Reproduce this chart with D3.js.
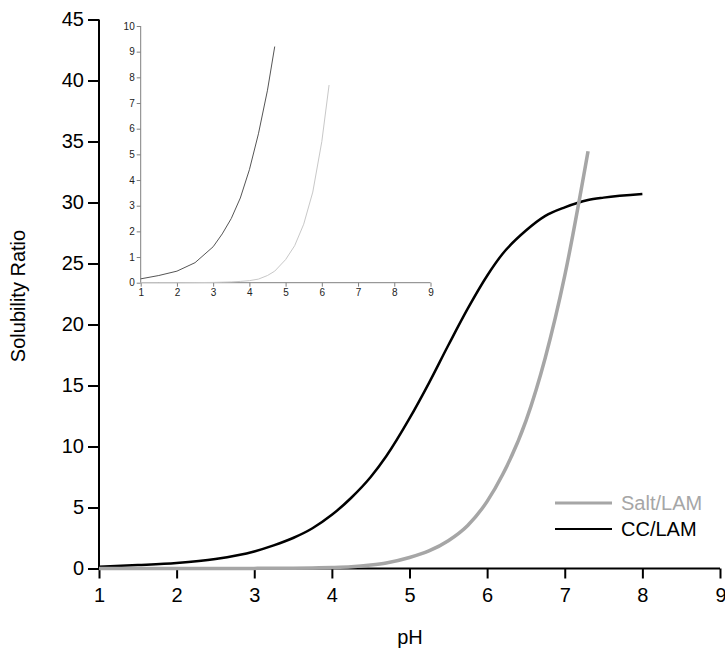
<!DOCTYPE html>
<html>
<head>
<meta charset="utf-8">
<script src="https://cdn.jsdelivr.net/npm/d3@7"></script>
<style>
  body { margin: 0; background: #fff; }
  svg { display: block; font-family: "Liberation Sans", Arial, sans-serif; }
</style>
</head>
<body>
<svg id="chart" width="725" height="648"></svg>
<script>
// pH sampling points
const phValues = [1, 1.5, 2, 2.5, 3, 3.25, 3.5, 3.75, 4, 4.25, 4.5, 4.7, 5, 5.25, 5.5, 5.75, 6, 6.2, 6.5, 6.75, 7, 7.3, 7.5, 8];

// solubility ratio
const ccLam = [0.15, 0.28, 0.45, 0.78, 1.4, 1.9, 2.5, 3.3, 4.4, 5.8, 7.5, 9.2, 12.3, 15.2, 18.3, 21.3, 24.0, 25.8, 27.7, 28.9, 29.6, 30.2, 30.4, 30.7];
const saltLam = [0, 0, 0, 0.005, 0.01, 0.02, 0.03, 0.05, 0.08, 0.14, 0.28, 0.45, 0.9, 1.44, 2.28, 3.53, 5.5, 7.7, 12.1, 17.3, 24.0, 34.2, null, null];

const xTicks = [1, 2, 3, 4, 5, 6, 7, 8, 9];
const yTicks = [0, 5, 10, 15, 20, 25, 30, 35, 40, 45];
const insetYTicks = [0, 1, 2, 3, 4, 5, 6, 7, 8, 9, 10];

// inset only shows the low end of each curve
const insetCcMax = 4.7;
const insetSaltMax = 6.2;

const svg = d3.select("#chart");

// main scales
const x = d3.scaleLinear().domain([1, 9]).range([99, 720]);
const y = d3.scaleLinear().domain([0, 45]).range([568.5, 19.5]);

const ccData = phValues.map((p, i) => ({ x: p, y: ccLam[i] }));
const saltData = phValues.map((p, i) => ({ x: p, y: saltLam[i] })).filter(d => d.y !== null);

// axes
const xAxis = svg.append("g")
  .attr("transform", `translate(0,${y(0)})`)
  .call(d3.axisBottom(x).tickValues(xTicks).tickSize(10).tickPadding(9).tickFormat(d3.format("d")));
const yAxis = svg.append("g")
  .attr("transform", `translate(${x(1)},0)`)
  .call(d3.axisLeft(y).tickValues(yTicks).tickSize(11).tickPadding(4).tickFormat(d3.format("d")));

[xAxis, yAxis].forEach(g => {
  g.select(".domain").attr("stroke", "#000").attr("stroke-width", 2);
  g.selectAll(".tick line").attr("stroke", "#000").attr("stroke-width", 2);
  g.selectAll(".tick text").attr("fill", "#000").style("font-size", "20px").style("font-family", "Liberation Sans, Arial, sans-serif");
});
xAxis.select(".domain").attr("d", `M${x(1)},0H${x(9)}`);
// last label sits on the edge, nudge it inside
xAxis.selectAll(".tick text").filter(d => d === 9).attr("text-anchor", "end").attr("dx", "0.3em");
yAxis.select(".domain").attr("d", `M0,${y(0)}V${y(45)}`);

// axis titles
svg.append("text")
  .attr("x", 410)
  .attr("y", 644)
  .attr("text-anchor", "middle")
  .style("font-size", "20px")
  .text("pH");

svg.append("text")
  .attr("transform", "translate(25,296) rotate(-90)")
  .attr("text-anchor", "middle")
  .style("font-size", "20px")
  .text("Solubility Ratio");

// lines
const line = d3.line()
  .x(d => x(d.x))
  .y(d => y(d.y))
  .curve(d3.curveMonotoneX);

svg.append("path")
  .datum(ccData)
  .attr("fill", "none")
  .attr("stroke", "#000")
  .attr("stroke-width", 2.5)
  .attr("d", line);

svg.append("path")
  .datum(saltData)
  .attr("fill", "none")
  .attr("stroke", "#a6a6a6")
  .attr("stroke-width", 3.5)
  .attr("d", line);

// legend
const legend = svg.append("g").attr("transform", "translate(555,0)");
legend.append("line").attr("x1", 0).attr("x2", 57).attr("y1", 503).attr("y2", 503)
  .attr("stroke", "#a6a6a6").attr("stroke-width", 3);
legend.append("text").attr("x", 66).attr("y", 510).attr("fill", "#a6a6a6")
  .style("font-size", "20px").text("Salt/LAM");
legend.append("line").attr("x1", 0).attr("x2", 57).attr("y1", 529).attr("y2", 529)
  .attr("stroke", "#000").attr("stroke-width", 2);
legend.append("text").attr("x", 66).attr("y", 536).attr("fill", "#000")
  .style("font-size", "20px").text("CC/LAM");

// inset
const ix = d3.scaleLinear().domain([1, 9]).range([140.7, 430.5]);
const iy = d3.scaleLinear().domain([0, 10]).range([282.7, 26]);

const ixAxis = svg.append("g")
  .attr("transform", `translate(0,${iy(0)})`)
  .call(d3.axisBottom(ix).tickValues(xTicks).tickSize(4).tickPadding(2).tickFormat(d3.format("d")));
const iyAxis = svg.append("g")
  .attr("transform", `translate(${ix(1)},0)`)
  .call(d3.axisLeft(iy).tickValues(insetYTicks).tickSize(4).tickPadding(2).tickFormat(d3.format("d")));

[ixAxis, iyAxis].forEach(g => {
  g.select(".domain").attr("stroke", "#808080").attr("stroke-width", 1);
  g.selectAll(".tick line").attr("stroke", "#808080");
  g.selectAll(".tick text").attr("fill", "#222").style("font-size", "10px").style("font-family", "Liberation Sans, Arial, sans-serif");
});
ixAxis.select(".domain").attr("d", `M${ix(1)},0H${ix(9)}`);
iyAxis.select(".domain").attr("d", `M0,${iy(0)}V${iy(10)}`);

const iline = d3.line()
  .x(d => ix(d.x))
  .y(d => iy(d.y));

svg.append("path")
  .datum(saltData.filter(d => d.x <= insetSaltMax))
  .attr("fill", "none")
  .attr("stroke", "#c8c8c8")
  .attr("stroke-width", 1)
  .attr("d", iline);

svg.append("path")
  .datum(ccData.filter(d => d.x <= insetCcMax))
  .attr("fill", "none")
  .attr("stroke", "#555")
  .attr("stroke-width", 1)
  .attr("d", iline);
</script>
</body>
</html>
